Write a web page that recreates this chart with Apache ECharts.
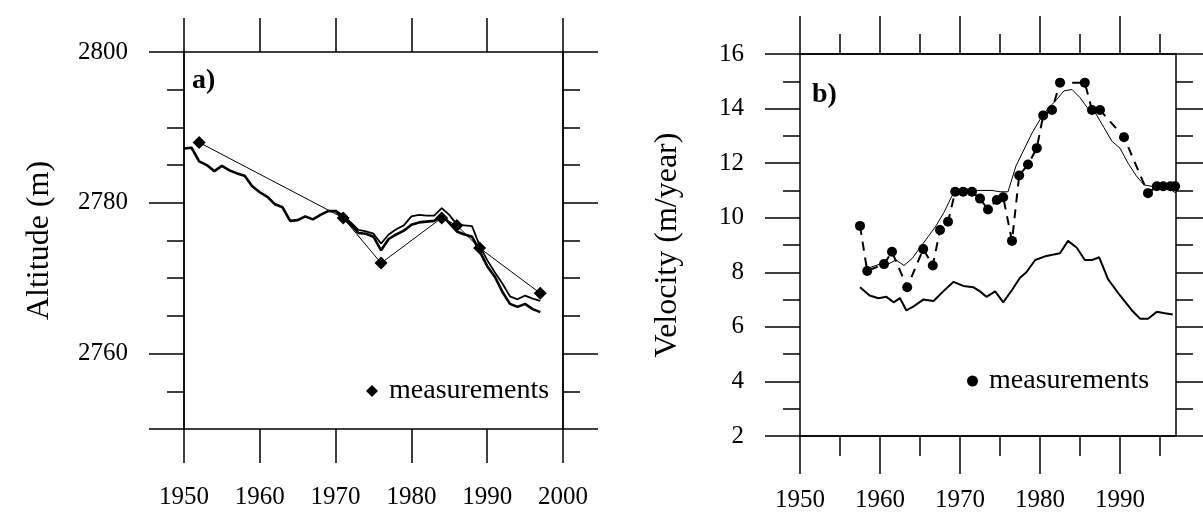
<!DOCTYPE html>
<html>
<head>
<meta charset="utf-8">
<script src="https://cdn.jsdelivr.net/npm/echarts@6/dist/echarts.min.js"></script>
<style>
  html, body { margin: 0; padding: 0; background: #ffffff; }
  #chart { width: 1203px; height: 515px; }
</style>
</head>
<body>
<div id="chart"></div>
<script>
// ---- Panel a: glacier surface altitude (m) ----
const altYears1 = [1950, 1951, 1952, 1953, 1954, 1955, 1956, 1957, 1958, 1959,
                   1960, 1961, 1962, 1963, 1964, 1965, 1966, 1967, 1968, 1969,
                   1970, 1971, 1972, 1973, 1974, 1975, 1976, 1977, 1978, 1979,
                   1980, 1981, 1982, 1983, 1984, 1985, 1986, 1987, 1988, 1989,
                   1990, 1991, 1992, 1993, 1994, 1995, 1996, 1997];
const altModel1 = [2787.2, 2787.3, 2785.5, 2785.0, 2784.2, 2784.9, 2784.3, 2783.9, 2783.6, 2782.2,
                   2781.4, 2780.8, 2779.8, 2779.4, 2777.6, 2777.7, 2778.2, 2777.8, 2778.4, 2778.9,
                   2778.9, 2778.0, 2777.1, 2776.0, 2775.9, 2775.5, 2773.7, 2775.2, 2775.8, 2776.3,
                   2777.1, 2777.4, 2777.5, 2777.6, 2778.4, 2777.3, 2776.2, 2775.8, 2775.5, 2773.6,
                   2771.6, 2770.2, 2768.2, 2766.6, 2766.2, 2766.6, 2765.9, 2765.5];
const altYears2 = [1970, 1971, 1972, 1973, 1974, 1975, 1976, 1977, 1978, 1979,
                   1980, 1981, 1982, 1983, 1984, 1985, 1986, 1987, 1988, 1989,
                   1990, 1991, 1992, 1993, 1994, 1995, 1996, 1997];
const altModel2 = [2779.0, 2778.3, 2777.4, 2776.4, 2776.2, 2775.9, 2774.6, 2775.8, 2776.5, 2777.0,
                   2778.2, 2778.4, 2778.3, 2778.3, 2779.3, 2778.4, 2777.1, 2777.0, 2776.9, 2774.3,
                   2772.4, 2770.8, 2769.3, 2767.6, 2767.2, 2767.7, 2767.3, 2767.0];
const altMeasYears = [1952, 1971, 1976, 1984, 1986, 1989, 1997];
const altMeasured = [2788, 2778, 2772, 2778, 2777, 2774, 2768];

const altYMajor = [2750, 2760, 2780, 2800];
const altYLabels = [2760, 2780, 2800];

// ---- Panel b: surface velocity (m/year) ----
const velYearsUpper = [1958, 1959, 1960, 1961, 1962, 1963, 1964, 1965, 1966, 1967,
                       1968, 1969, 1970, 1971, 1972, 1973, 1974, 1975, 1976, 1977,
                       1978, 1979, 1980, 1981, 1982, 1983, 1984, 1985, 1986, 1987,
                       1988, 1989, 1990, 1991, 1992, 1993, 1994, 1995, 1996, 1997];
const velModelUpper = [8.1, 8.2, 8.3, 8.3, 8.45, 8.25, 8.5, 8.9, 9.3, 9.7,
                       10.2, 10.8, 11.0, 11.05, 11.0, 11.0, 11.0, 10.95, 10.95, 11.9,
                       12.5, 13.1, 13.6, 14.0, 14.3, 14.65, 14.7, 14.4, 14.0, 13.8,
                       13.3, 12.8, 12.55, 12.0, 11.55, 11.2, 11.15, 11.15, 11.1, 10.9];
const velYearsLower = [1957.5, 1958.7, 1959.8, 1960.8, 1961.7, 1962.5, 1963.3, 1964.2, 1965.4, 1966.7,
                       1967.9, 1969.2, 1970.4, 1971.7, 1972.5, 1973.3, 1974.4, 1975.4, 1976.5, 1977.5,
                       1978.3, 1979.4, 1980.8, 1982.5, 1983.5, 1984.6, 1985.6, 1986.5, 1987.4, 1988.5,
                       1990.0, 1991.5, 1992.5, 1993.5, 1994.6, 1995.6, 1996.6];
const velModelLower = [7.45, 7.15, 7.05, 7.1, 6.9, 7.05, 6.6, 6.75, 7.0, 6.95,
                       7.3, 7.65, 7.5, 7.45, 7.3, 7.1, 7.3, 6.9, 7.35, 7.8,
                       8.0, 8.45, 8.6, 8.7, 9.15, 8.9, 8.45, 8.45, 8.55, 7.75,
                       7.15, 6.6, 6.3, 6.3, 6.55, 6.5, 6.45];
const velMeasYears = [1957.5, 1958.4, 1960.5, 1961.5, 1963.4, 1965.4, 1966.6, 1967.5, 1968.5, 1969.4,
                      1970.4, 1971.5, 1972.5, 1973.5, 1974.6, 1975.4, 1976.5, 1977.4, 1978.5, 1979.6,
                      1980.4, 1981.5, 1982.5, 1985.6, 1986.5, 1987.5, 1990.5, 1993.5, 1994.6, 1995.4,
                      1996.3, 1996.9];
const velMeasured = [9.7, 8.05, 8.3, 8.75, 7.45, 8.85, 8.25, 9.55, 9.85, 10.95,
                     10.95, 10.95, 10.7, 10.3, 10.65, 10.75, 9.15, 11.55, 11.95, 12.55,
                     13.75, 13.95, 14.95, 14.95, 13.95, 13.95, 12.95, 10.9, 11.15, 11.15,
                     11.15, 11.15];

const velXMajor = [1950, 1960, 1970, 1980, 1990];
const velXMinor = [1955, 1965, 1975, 1985, 1995];

// ---- helpers ----
const zip = (xs, ys) => xs.map((x, i) => [x, ys[i]]);
const FONT = 'Liberation Serif';
const INK = '#000000';

const lineStyle = { color: INK, width: 1.5 };

function axisBase(extra) {
  return Object.assign({
    type: 'value',
    axisLine: { show: true, onZero: false, lineStyle: lineStyle },
    splitLine: { show: false },
    axisLabel: { show: false },
    axisTick: { show: true, inside: false, lineStyle: lineStyle }
  }, extra);
}

// plain numbers, no thousands separator
function tickLabel(margin, values) {
  const l = { show: true, color: INK, fontFamily: FONT, fontSize: 25, margin: margin,
              formatter: v => String(v) };
  if (values) l.customValues = values;
  return l;
}

const titleFont = { color: INK, fontFamily: FONT, fontSize: 32 };

const xAxes = [
  // panel a, bottom with labels
  axisBase({ gridIndex: 0, position: 'bottom', min: 1950, max: 2000, interval: 10,
             axisTick: { show: true, length: 34, lineStyle: lineStyle },
             axisLabel: tickLabel(56) }),
  // panel a, top
  axisBase({ gridIndex: 0, position: 'top', min: 1950, max: 2000, interval: 10,
             axisTick: { show: true, length: 34, lineStyle: lineStyle } }),
  // panel b, bottom: decade ticks + labels
  axisBase({ gridIndex: 1, position: 'bottom', min: 1950, max: 1997, interval: 5,
             axisTick: { show: true, length: 38, customValues: velXMajor, lineStyle: lineStyle },
             axisLabel: tickLabel(52, velXMajor) }),
  // panel b, bottom: 5-year ticks
  axisBase({ gridIndex: 1, position: 'bottom', min: 1950, max: 1997, interval: 5,
             axisTick: { show: true, length: 20, customValues: velXMinor, lineStyle: lineStyle } }),
  // panel b, top: decade ticks
  axisBase({ gridIndex: 1, position: 'top', min: 1950, max: 1997, interval: 5,
             axisTick: { show: true, length: 38, customValues: velXMajor, lineStyle: lineStyle } }),
  // panel b, top: 5-year ticks
  axisBase({ gridIndex: 1, position: 'top', min: 1950, max: 1997, interval: 5,
             axisTick: { show: true, length: 20, customValues: velXMinor, lineStyle: lineStyle } })
];

const yAxes = [
  // panel a, left: long ticks + labels + title
  axisBase({ gridIndex: 0, position: 'left', min: 2750, max: 2800, interval: 5,
             axisTick: { show: true, length: 35, customValues: altYMajor, lineStyle: lineStyle },
             axisLabel: tickLabel(56, altYLabels),
             name: 'Altitude (m)', nameLocation: 'middle', nameRotate: 90, nameGap: 128,
             nameTextStyle: titleFont }),
  // panel a, left: 5 m ticks
  axisBase({ gridIndex: 0, position: 'left', min: 2750, max: 2800, interval: 5,
             axisTick: { show: true, length: 17, lineStyle: lineStyle } }),
  // panel a, right: long ticks
  axisBase({ gridIndex: 0, position: 'right', min: 2750, max: 2800, interval: 5,
             axisTick: { show: true, length: 35, customValues: altYMajor, lineStyle: lineStyle } }),
  // panel a, right: 5 m ticks
  axisBase({ gridIndex: 0, position: 'right', min: 2750, max: 2800, interval: 5,
             axisTick: { show: true, length: 17, lineStyle: lineStyle } }),
  // panel b, left
  axisBase({ gridIndex: 1, position: 'left', min: 2, max: 16, interval: 2,
             axisTick: { show: true, length: 35, lineStyle: lineStyle },
             minorTick: { show: true, splitNumber: 2, length: 17, lineStyle: lineStyle },
             axisLabel: tickLabel(56),
             name: 'Velocity (m/year)', nameLocation: 'middle', nameRotate: 90, nameGap: 116,
             nameTextStyle: titleFont }),
  // panel b, right
  axisBase({ gridIndex: 1, position: 'right', min: 2, max: 16, interval: 2,
             axisTick: { show: true, length: 35, lineStyle: lineStyle },
             minorTick: { show: true, splitNumber: 2, length: 17, lineStyle: lineStyle } })
];

const option = {
  backgroundColor: '#ffffff',
  animation: false,
  grid: [
    { left: 184, top: 52, width: 379, height: 377 },
    { left: 800, top: 54, width: 376, height: 382 }
  ],
  title: [
    { text: 'a)', left: 187, top: 62,
      textStyle: { color: INK, fontFamily: FONT, fontSize: 28, fontWeight: 'bold' } },
    { text: 'b)', left: 807, top: 76,
      textStyle: { color: INK, fontFamily: FONT, fontSize: 28, fontWeight: 'bold' } }
  ],
  legend: [
    { data: ['measurementsA'], left: 361, top: 372, icon: 'diamond', itemWidth: 12, itemHeight: 12,
      formatter: () => 'measurements', selectedMode: false,
      textStyle: { color: INK, fontFamily: FONT, fontSize: 28, padding: [0, 0, 0, 6] } },
    { data: ['measurementsB'], left: 962, top: 362, icon: 'circle', itemWidth: 11, itemHeight: 11,
      formatter: () => 'measurements', selectedMode: false,
      textStyle: { color: INK, fontFamily: FONT, fontSize: 28, padding: [0, 0, 0, 6] } }
  ],
  xAxis: xAxes,
  yAxis: yAxes,
  series: [
    { name: 'model1', type: 'line', xAxisIndex: 0, yAxisIndex: 0, data: zip(altYears1, altModel1),
      symbol: 'none', lineStyle: { color: INK, width: 2.6 }, z: 3 },
    { name: 'model2', type: 'line', xAxisIndex: 0, yAxisIndex: 0, data: zip(altYears2, altModel2),
      symbol: 'none', lineStyle: { color: INK, width: 1.8 }, z: 3 },
    { name: 'measurementsA', type: 'line', xAxisIndex: 0, yAxisIndex: 0, data: zip(altMeasYears, altMeasured),
      symbol: 'diamond', symbolSize: 13, itemStyle: { color: INK },
      lineStyle: { color: INK, width: 1 }, z: 4 },
    { name: 'velUpper', type: 'line', xAxisIndex: 2, yAxisIndex: 4, data: zip(velYearsUpper, velModelUpper),
      symbol: 'none', lineStyle: { color: INK, width: 1 }, z: 3 },
    { name: 'velLower', type: 'line', xAxisIndex: 2, yAxisIndex: 4, data: zip(velYearsLower, velModelLower),
      symbol: 'none', lineStyle: { color: INK, width: 2 }, z: 3 },
    { name: 'measurementsB', type: 'line', xAxisIndex: 2, yAxisIndex: 4, data: zip(velMeasYears, velMeasured),
      symbol: 'circle', symbolSize: 10, itemStyle: { color: INK },
      lineStyle: { color: INK, width: 2, type: [9, 7] }, z: 4 }
  ]
};

const chart = echarts.init(document.getElementById('chart'), null, { renderer: 'canvas' });
chart.setOption(option);
</script>
</body>
</html>
